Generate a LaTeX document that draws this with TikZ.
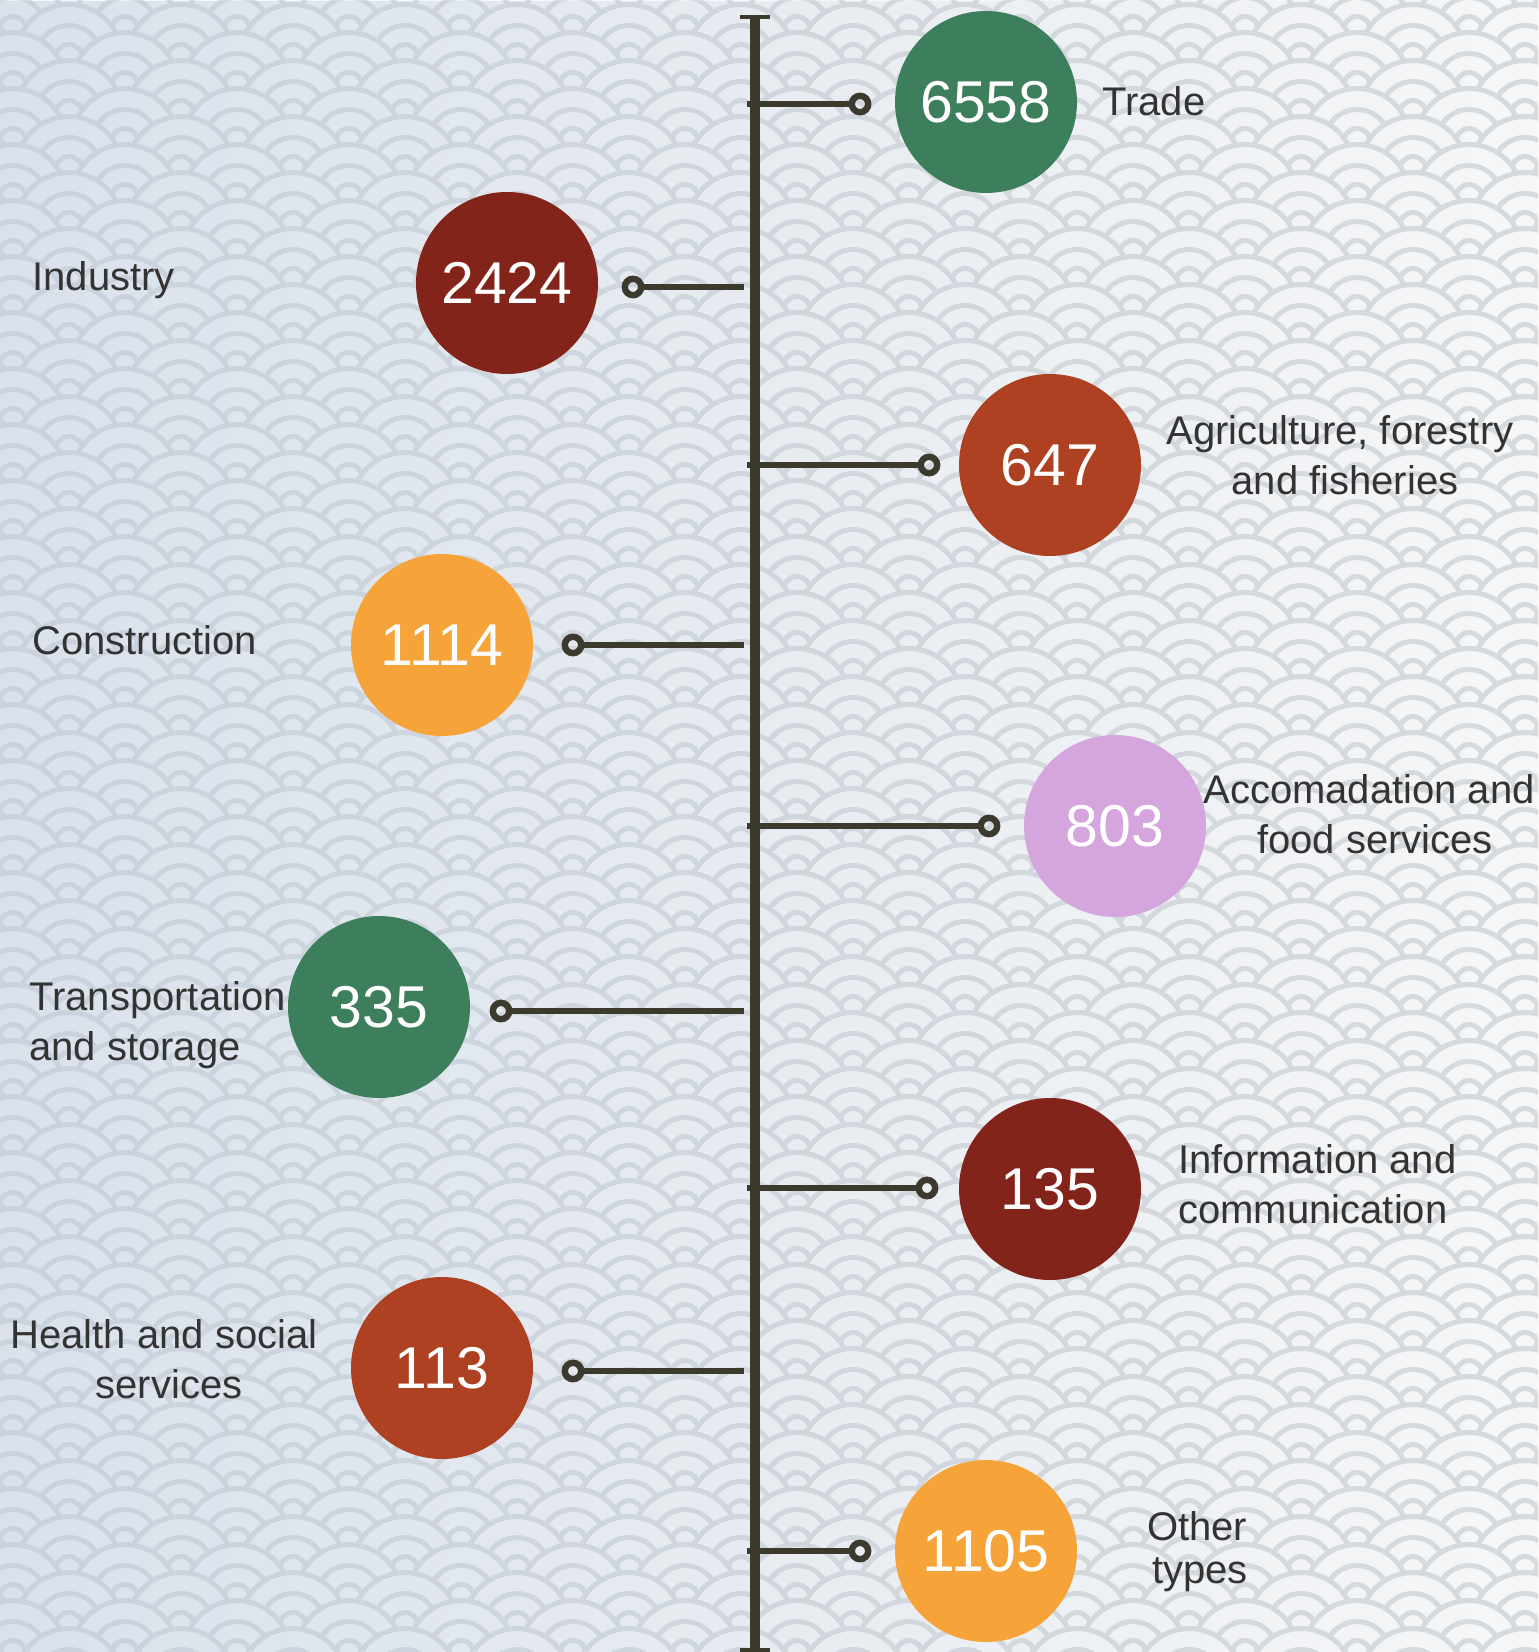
\documentclass[tikz,border=0pt]{standalone}
\usepackage{fontspec}
\setmainfont{Liberation Sans}
\usetikzlibrary{fadings}

\definecolor{axiscol}{HTML}{3B3A2D}
\definecolor{txtcol}{HTML}{333333}
\definecolor{bandcol}{HTML}{F6F7F8}
\definecolor{ringcol}{HTML}{D8DBDE}
\definecolor{tintcol}{HTML}{B8C8DC}
\definecolor{sgreen}{HTML}{3D7F5D}
\definecolor{sdarkred}{HTML}{83241A}
\definecolor{srust}{HTML}{AD4122}
\definecolor{sorange}{HTML}{F6A43A}
\definecolor{slilac}{HTML}{D5A6DD}

\tikzfading[name=fade right, left color=transparent!0, right color=transparent!100]

\tikzset{
    bubble/.style={circle, minimum size=91pt, inner sep=0pt, text=white,
        font=\fontsize{29.5}{30}\selectfont},
    knob/.style={circle, draw=axiscol, line width=3.2pt, minimum size=8.2pt, inner sep=0pt},
    sector/.style={text=txtcol, inner sep=0pt, font=\fontsize{20}{25}\selectfont},
    stem/.style={axiscol, line width=3pt},
}

\begin{document}
\begin{tikzpicture}[x=0.5pt, y=-0.5pt]
        \useasboundingbox (0,0) rectangle (1538,1652);
        % wave background, row by row from the top
        \begin{scope}
            \clip (0,0) rectangle (1538,1652);
            \foreach \j in {0,...,63} {
                \foreach \i in {-1,...,14} {
                    \pgfmathsetmacro{\cx}{13 + 112*\i + 56*mod(\j,2)}
                    \pgfmathsetmacro{\cy}{-26 + 28*\j}
                    \filldraw[fill=bandcol, draw=ringcol, line width=2.5pt]
                        (\cx,\cy) circle (53.5);
                    \draw[ringcol, line width=2.5pt]
                        (\cx,\cy) circle (32.5) (\cx,\cy) circle (13.5);
                }
            }
            % bluish tint, fading out to the right
            \fill[tintcol, fill opacity=0.45, path fading=fade right]
                (0,0) rectangle (1538,1652);
        \end{scope}
        % the axis, with end caps
        \coordinate (top) at (755,17);
        \coordinate (bot) at (755,1656);
        \draw[axiscol, line width=5pt] ([yshift=1pt]top) -- (bot);
        \draw[axiscol, line width=2.2pt] ([xshift=-7.5pt]top) -- ([xshift=7.5pt]top);
        \draw[axiscol, line width=2.2pt] ([xshift=-7.5pt,yshift=3pt]bot) -- ([xshift=7.5pt,yshift=3pt]bot);
        % trade, with label
        \node[bubble, fill=sgreen] (trade) at (986,102) {6558};
        \node[knob] (k-trade) at (860,104) {};
        \coordinate (a-trade) at (747,104);
        \draw[stem] (a-trade) -- (k-trade);
        \node[sector, anchor=base west] (l-trade) at (1102,116) {Trade};
        % industry, with label
        \node[bubble, fill=sdarkred] (industry) at (507,283) {2424};
        \node[knob] (k-industry) at (633,287) {};
        \coordinate (a-industry) at (744,287);
        \draw[stem] (k-industry) -- (a-industry);
        \node[sector, anchor=base west] (l-industry) at (32,291) {Industry};
        % agriculture, with label
        \node[bubble, fill=srust] (agri) at (1050,465) {647};
        \node[knob] (k-agri) at (929,465) {};
        \coordinate (a-agri) at (747,465);
        \draw[stem] (a-agri) -- (k-agri);
        \node[sector, align=center] (l-agri) at (1340,455) {Agriculture, forestry\\\hspace*{5pt}and fisheries};
        % construction, with label
        \node[bubble, fill=sorange] (constr) at (442,645) {1114};
        \node[knob] (k-constr) at (573,645) {};
        \coordinate (a-constr) at (744,645);
        \draw[stem] (k-constr) -- (a-constr);
        \node[sector, anchor=base west] (l-constr) at (32,654) {Construction};
        % accomadation, with label
        \node[bubble, fill=slilac] (accom) at (1115,826) {803};
        \node[knob] (k-accom) at (989,826) {};
        \coordinate (a-accom) at (747,826);
        \draw[stem] (a-accom) -- (k-accom);
        \node[sector, align=center] (l-accom) at (1369,814) {Accomadation and\\\hspace*{6pt}food services};
        % transportation, with label
        \node[bubble, fill=sgreen] (transp) at (379,1007) {335};
        \node[knob] (k-transp) at (501,1011) {};
        \coordinate (a-transp) at (744,1011);
        \draw[stem] (k-transp) -- (a-transp);
        \node[sector, align=left, anchor=west] (l-transp) at (29,1025) {Transportation\\and storage};
        % information, with label
        \node[bubble, fill=sdarkred] (info) at (1050,1189) {135};
        \node[knob] (k-info) at (927,1188) {};
        \coordinate (a-info) at (747,1188);
        \draw[stem] (a-info) -- (k-info);
        \node[sector, align=left, anchor=west] (l-info) at (1178,1184) {Information and\\communication};
        % health, with label
        \node[bubble, fill=srust] (health) at (442,1368) {113};
        \node[knob] (k-health) at (573,1371) {};
        \coordinate (a-health) at (744,1371);
        \draw[stem] (k-health) -- (a-health);
        \node[sector, align=center] (l-health) at (164,1359) {Health and social\\\hspace*{5pt}services};
        % other types, with label
        \node[bubble, fill=sorange] (other) at (986,1551) {1105};
        \node[knob] (k-other) at (860,1551) {};
        \coordinate (a-other) at (747,1551);
        \draw[stem] (a-other) -- (k-other);
        \node[sector, align=center] (l-other) at (1197,1552) {Other\\[-3.5pt]\hspace*{3pt}types};
    \end{tikzpicture}
\end{document}
